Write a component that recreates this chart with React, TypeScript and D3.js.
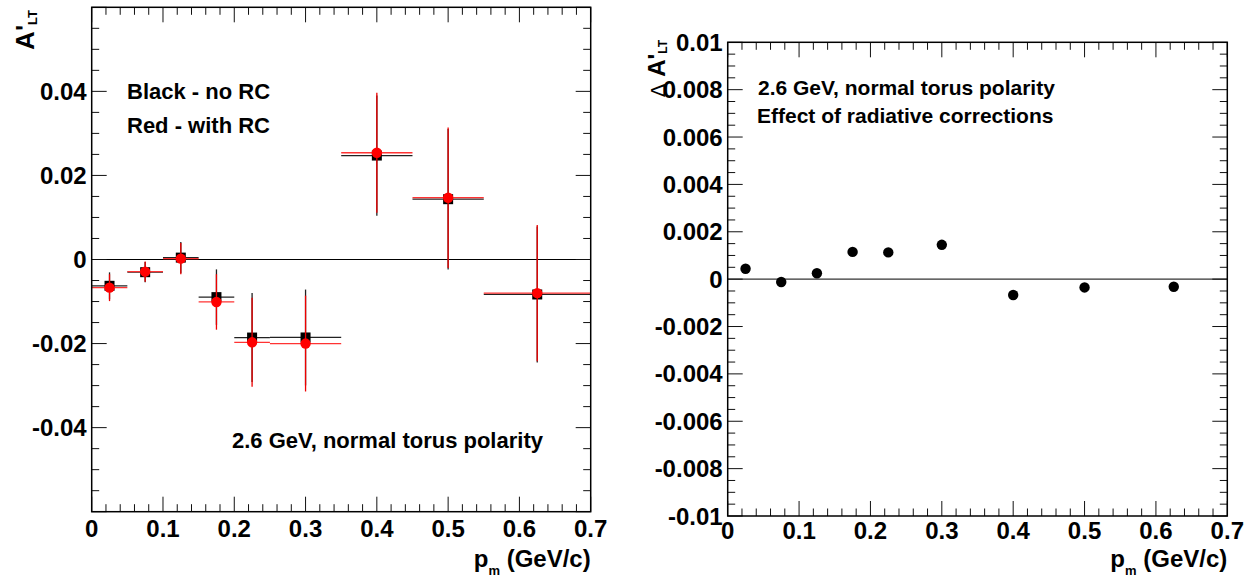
import React from 'react';
import * as d3 from 'd3';

// ---- data ----
const pm = [0.025, 0.075, 0.125, 0.175, 0.225, 0.3, 0.4, 0.5, 0.625];
const binLow = [0, 0.05, 0.1, 0.15, 0.2, 0.25, 0.35, 0.45, 0.55];
const binHigh = [0.05, 0.1, 0.15, 0.2, 0.25, 0.35, 0.45, 0.55, 0.7];
const aNoRC = [-0.00626, -0.00302, 0.00045, -0.00895, -0.01857, -0.01855, 0.02473, 0.01435, -0.00832];
const aWithRC = [-0.0067, -0.0029, 0.0002, -0.0101, -0.0197, -0.02, 0.0254, 0.0147, -0.008];
const aErr = [0.0032, 0.0024, 0.0037, 0.0066, 0.0106, 0.0114, 0.0143, 0.0167, 0.0162];
const deltaA = [0.00044, -0.00012, 0.00025, 0.00115, 0.00113, 0.00145, -0.00067, -0.00035, -0.00032];

const xTickLabels = ['0', '0.1', '0.2', '0.3', '0.4', '0.5', '0.6', '0.7'];
const leftYTickLabels = ['-0.04', '-0.02', '0', '0.02', '0.04'];
const rightYTickLabels = ['-0.01', '-0.008', '-0.006', '-0.004', '-0.002', '0', '0.002', '0.004', '0.006', '0.008', '0.01'];

const FONT = "'Liberation Sans', Arial, Helvetica, sans-serif";
const TICKFS = 24;

type Frame = { x0: number; x1: number; y0: number; y1: number };

function Axes({ f, xs, ys, xMinor, yMinor, yLabels, xLabelDy }: any) {
  const els: any[] = [];
  const MAJ = 15, MIN = 7.5;
  const xMajorVals = xTickLabels.map(Number);
  xMinor.forEach((v: number, i: number) => {
    const isMaj = xMajorVals.some((m) => Math.abs(m - v) < 1e-9);
    const L = isMaj ? MAJ : MIN;
    const x = xs(v);
    els.push(<line key={'xb' + i} x1={x} x2={x} y1={f.y1} y2={f.y1 - L} stroke="#111" strokeWidth={1} />);
    els.push(<line key={'xt' + i} x1={x} x2={x} y1={f.y0} y2={f.y0 + L} stroke="#111" strokeWidth={1} />);
  });
  const yMajorVals = ys.majorVals as number[];
  yMinor.forEach((v: number, i: number) => {
    const isMaj = yMajorVals.some((m) => Math.abs(m - v) < 1e-9);
    const L = isMaj ? MAJ : MIN;
    const y = ys(v);
    els.push(<line key={'yl' + i} x1={f.x0} x2={f.x0 + L} y1={y} y2={y} stroke="#111" strokeWidth={1} />);
    els.push(<line key={'yr' + i} x1={f.x1} x2={f.x1 - L} y1={y} y2={y} stroke="#111" strokeWidth={1} />);
  });
  xTickLabels.forEach((t, i) => {
    els.push(
      <text key={'xl' + i} x={xs(+t)} y={f.y1 + xLabelDy} textAnchor="middle" fontSize={TICKFS} fontWeight="bold" fontFamily={FONT}>
        {t}
      </text>
    );
  });
  yLabels.forEach((t: string, i: number) => {
    els.push(
      <text key={'yt' + i} x={f.x0 - 5} y={ys(+t) + 8.5} textAnchor="end" fontSize={TICKFS} fontWeight="bold" fontFamily={FONT}>
        {t}
      </text>
    );
  });
  els.push(<rect key="frame" x={f.x0} y={f.y0} width={f.x1 - f.x0} height={f.y1 - f.y0} fill="none" stroke="#000" strokeWidth={1.5} />);
  return <g>{els}</g>;
}

export default function App() {
  const L: Frame = { x0: 91.7, x1: 590.7, y0: 7.3, y1: 511.7 };
  const R: Frame = { x0: 727.7, x1: 1227.3, y0: 42.3, y1: 516 };

  const xL = d3.scaleLinear().domain([0, 0.7]).range([L.x0, L.x1]);
  const yL: any = d3.scaleLinear().domain([-0.06, 0.06]).range([L.y1, L.y0]);
  yL.majorVals = d3.range(-3, 4).map((k) => k * 0.02);
  const xR = d3.scaleLinear().domain([0, 0.7]).range([R.x0, R.x1]);
  const yR: any = d3.scaleLinear().domain([-0.01, 0.01]).range([R.y1, R.y0]);
  yR.majorVals = d3.range(-5, 6).map((k) => k * 0.002);

  const xMinor = d3.range(0, 36).map((k) => k * 0.02);
  const yMinorL = d3.range(-12, 13).map((k) => k * 0.005);
  const yMinorR = d3.range(-20, 21).map((k) => k * 0.0005);

  return (
    <svg width={1251} height={585} style={{ position: 'absolute', left: 0, top: 0, background: '#fff' }}>
      <rect x={0} y={0} width={1251} height={585} fill="#fff" />
      {/* ---------- LEFT PANEL ---------- */}
      <line x1={L.x0} x2={L.x1} y1={yL(0)} y2={yL(0)} stroke="#000" strokeWidth={1} />
      {/* black (no RC) */}
      {pm.map((x, i) => (
        <g key={'b' + i}>
          <line x1={xL(binLow[i])} x2={xL(binHigh[i])} y1={yL(aNoRC[i])} y2={yL(aNoRC[i])} stroke="#222" strokeWidth={1.3} />
          <line x1={xL(x)} x2={xL(x)} y1={yL(aNoRC[i] - aErr[i])} y2={yL(aNoRC[i] + aErr[i])} stroke="#222" strokeWidth={1.3} />
          <rect x={xL(x) - 5} y={yL(aNoRC[i]) - 5} width={10} height={10} fill="#000" />
        </g>
      ))}
      {/* red (with RC) */}
      {pm.map((x, i) => (
        <g key={'r' + i}>
          <line x1={xL(binLow[i])} x2={xL(binHigh[i])} y1={yL(aWithRC[i])} y2={yL(aWithRC[i])} stroke="#f33" strokeWidth={1.3} />
          <line x1={xL(x)} x2={xL(x)} y1={yL(aWithRC[i] - aErr[i])} y2={yL(aWithRC[i] + aErr[i])} stroke="#e00" strokeWidth={1.3} />
          <circle cx={xL(x)} cy={yL(aWithRC[i])} r={5.2} fill="#f00" />
        </g>
      ))}
      <Axes f={L} xs={xL} ys={yL} xMinor={xMinor} yMinor={yMinorL} yLabels={leftYTickLabels} xLabelDy={25} />
      <text x={127} y={99} fontSize={22} fontWeight="bold" fontFamily={FONT}>Black - no RC</text>
      <text x={127} y={133} fontSize={22} fontWeight="bold" fontFamily={FONT}>Red - with RC</text>
      <text x={232} y={448} fontSize={22} fontWeight="bold" fontFamily={FONT}>2.6 GeV, normal torus polarity</text>
      <text transform="translate(34,10) rotate(-90)" textAnchor="end" fontSize={26} fontWeight="bold" fontFamily={FONT}>
        A'<tspan fontSize={13} dy={3}>LT</tspan>
      </text>
      <text x={L.x1} y={567} textAnchor="end" fontSize={24} fontWeight="bold" fontFamily={FONT}>
        p<tspan fontSize={13} dy={8}>m</tspan><tspan dy={-8}> (GeV/c)</tspan>
      </text>

      {/* ---------- RIGHT PANEL ---------- */}
      <line x1={R.x0} x2={R.x1} y1={yR(0)} y2={yR(0)} stroke="#333" strokeWidth={1.2} />
      {pm.map((x, i) => (
        <circle key={'d' + i} cx={xR(x)} cy={yR(deltaA[i])} r={5.2} fill="#000" />
      ))}
      <Axes f={R} xs={xR} ys={yR} xMinor={xMinor} yMinor={yMinorR} yLabels={rightYTickLabels} xLabelDy={23} />
      <text x={758} y={95} fontSize={21} fontWeight="bold" fontFamily={FONT}>2.6 GeV, normal torus polarity</text>
      <text x={757} y={123} fontSize={21} fontWeight="bold" fontFamily={FONT}>Effect of radiative corrections</text>
      <text transform="translate(665,40) rotate(-90)" textAnchor="end" fontSize={24} fontWeight="bold" fontFamily={FONT}>
        <tspan fontWeight="normal" fontSize={20} fontFamily="'DejaVu Sans', sans-serif">Δ</tspan> A'<tspan fontSize={12} dy={2}>LT</tspan>
      </text>
      <text x={R.x1} y={567} textAnchor="end" fontSize={24} fontWeight="bold" fontFamily={FONT}>
        p<tspan fontSize={13} dy={8}>m</tspan><tspan dy={-8}> (GeV/c)</tspan>
      </text>
    </svg>
  );
}
